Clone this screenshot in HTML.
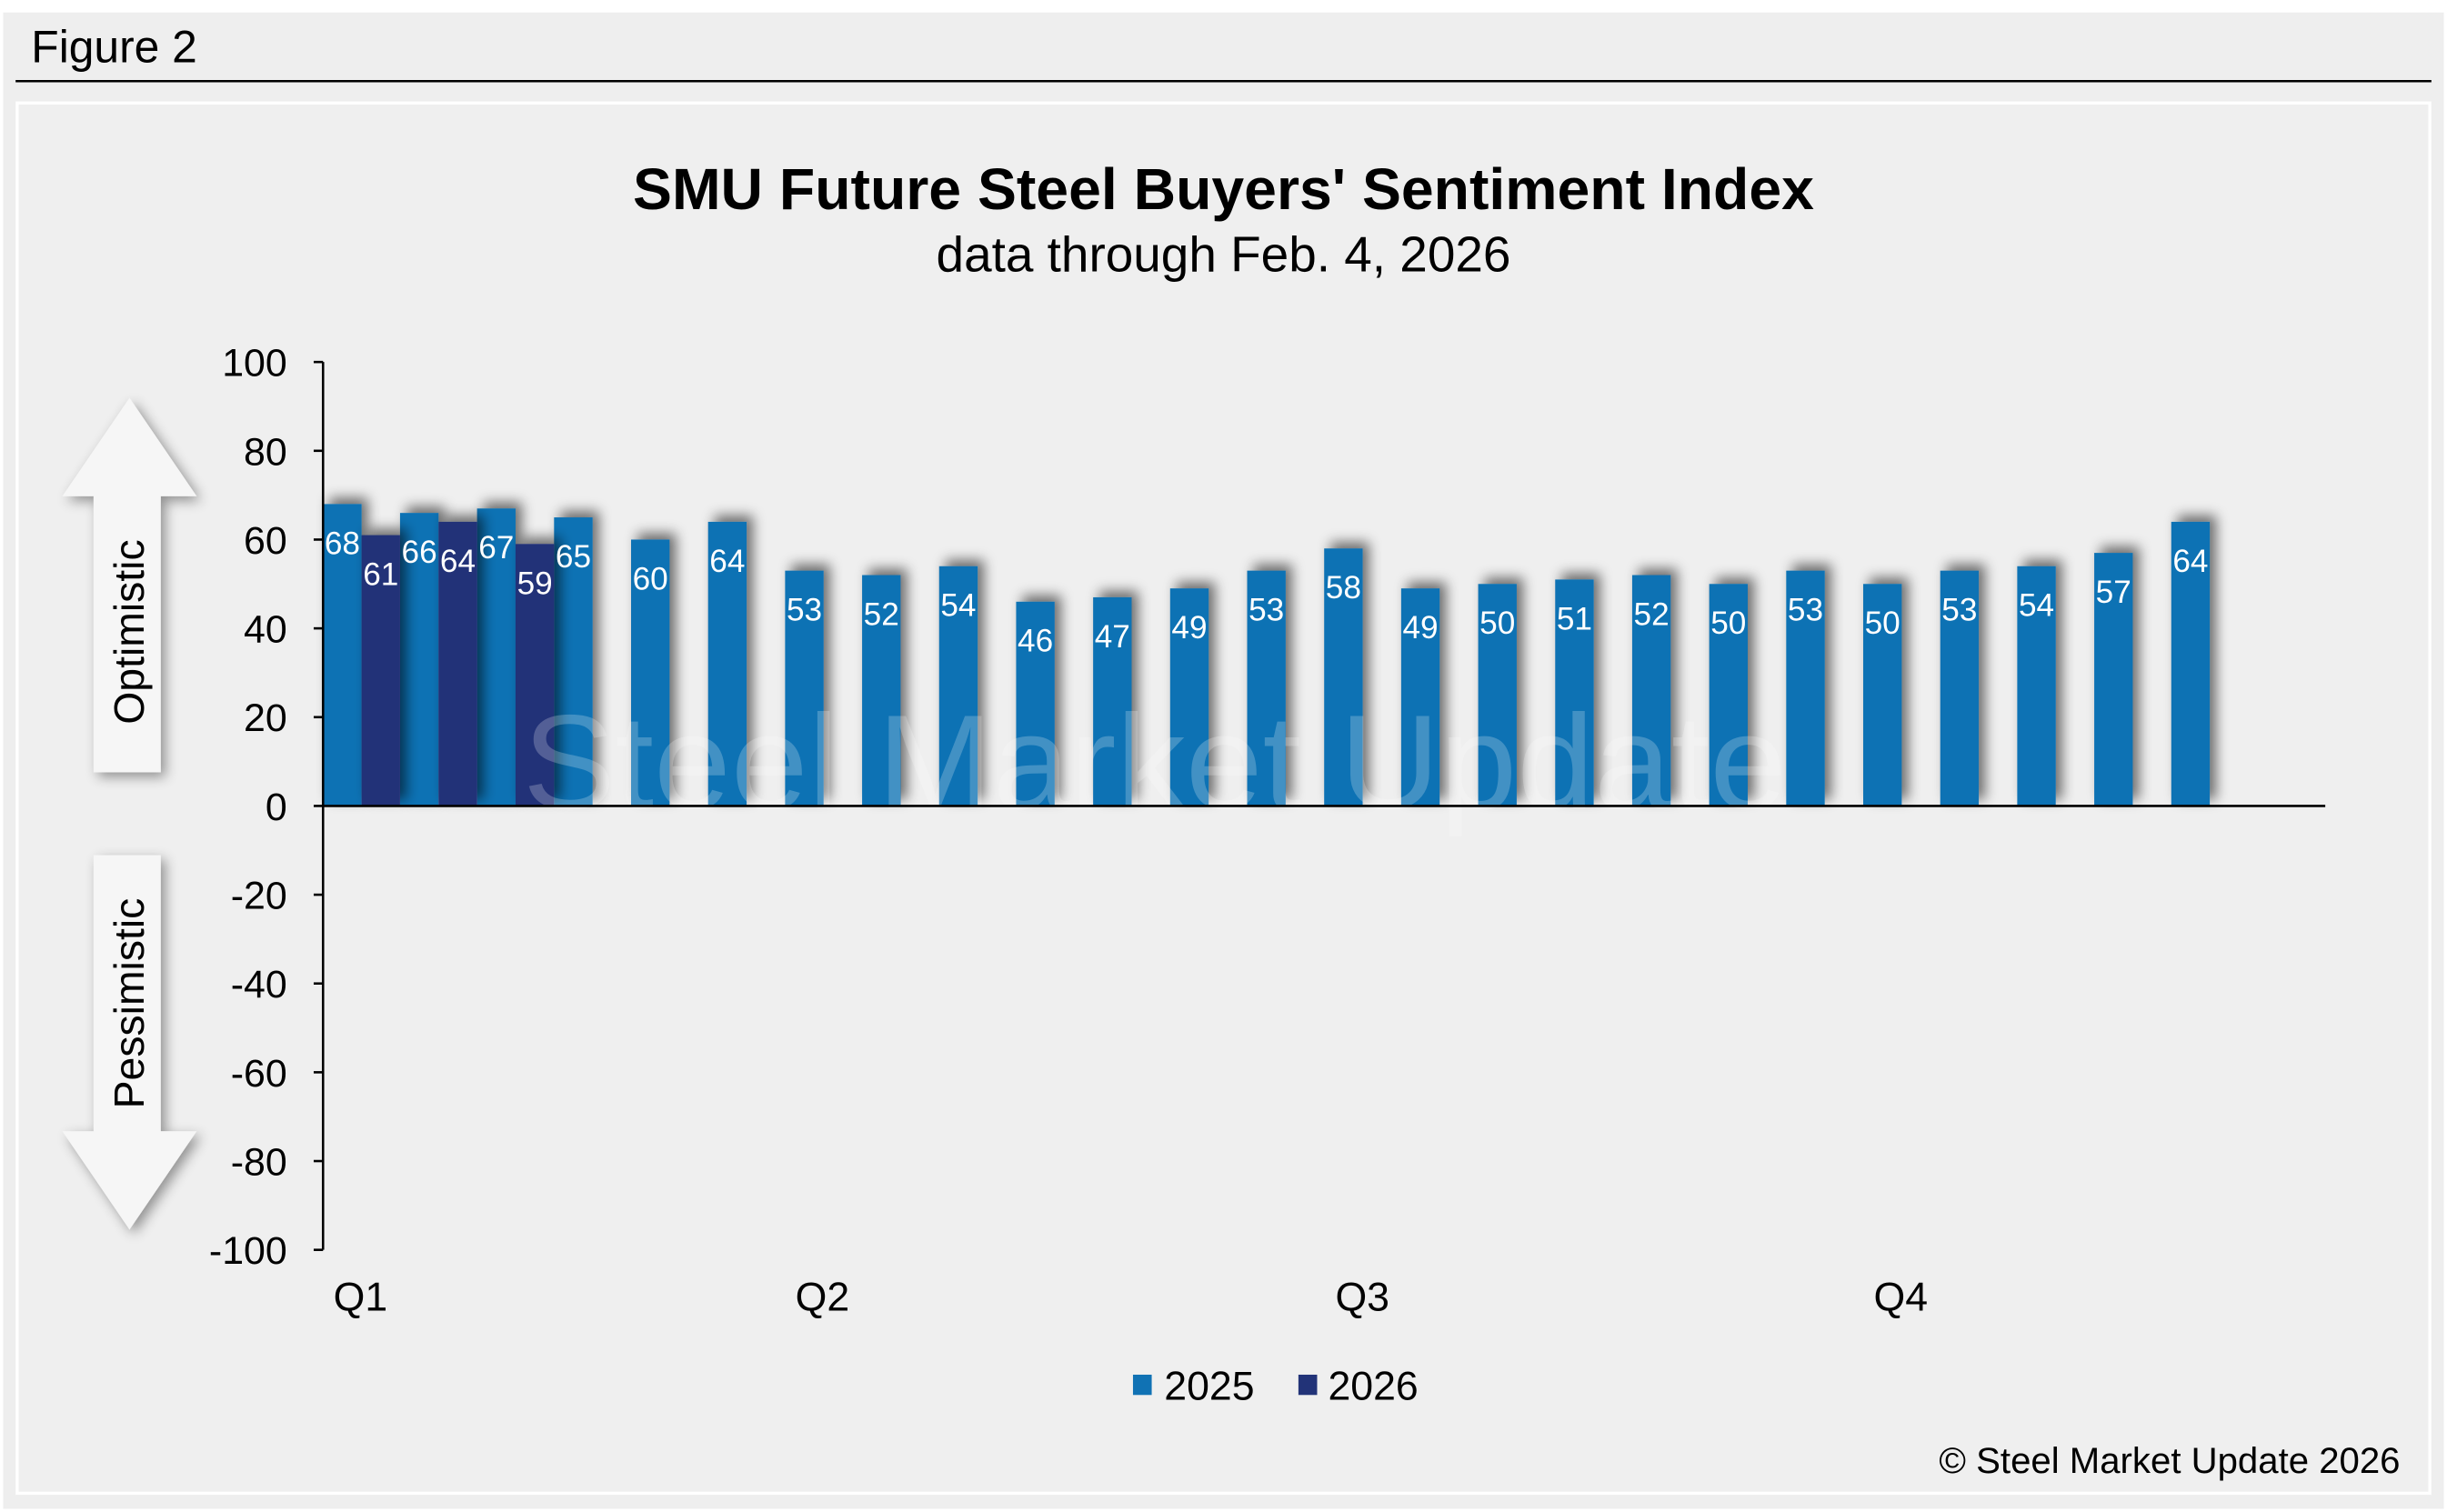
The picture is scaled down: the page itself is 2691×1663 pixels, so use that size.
<!DOCTYPE html>
<html><head><meta charset="utf-8">
<style>
html,body{margin:0;padding:0;background:#efefef;}
svg{display:block;font-family:"Liberation Sans",Arial,sans-serif;}
</style></head>
<body>
<svg id="chart" width="2691" height="1663" viewBox="0 0 1568 969" preserveAspectRatio="none" xmlns="http://www.w3.org/2000/svg">
<defs>
<filter id="sh" x="-50%" y="-50%" width="200%" height="200%">
<feGaussianBlur in="SourceAlpha" stdDeviation="4"/>
<feOffset dx="4" dy="-4" result="b"/>
<feComponentTransfer><feFuncA type="linear" slope="0.55"/></feComponentTransfer>
<feMerge><feMergeNode/><feMergeNode in="SourceGraphic"/></feMerge>
</filter>
<filter id="ash" x="-50%" y="-50%" width="200%" height="200%">
<feGaussianBlur in="SourceAlpha" stdDeviation="4"/>
<feOffset dx="3" dy="3"/>
<feComponentTransfer><feFuncA type="linear" slope="0.4"/></feComponentTransfer>
<feMerge><feMergeNode/><feMergeNode in="SourceGraphic"/></feMerge>
</filter>
</defs>
<rect x="0" y="0" width="1568" height="969" fill="#ffffff"/>
<rect x="2" y="8" width="1564" height="959" fill="#eeeeee"/>
<text x="20" y="40" font-size="29" fill="#000">Figure 2</text>
<line x1="10" y1="52" x2="1558" y2="52" stroke="#000" stroke-width="1.5"/>
<rect x="11" y="66" width="1546" height="891" fill="#efefef" stroke="#fff" stroke-width="2"/>
<text x="784" y="134" font-size="37.5" font-weight="bold" text-anchor="middle">SMU Future Steel Buyers' Sentiment Index</text>
<text x="784" y="174" font-size="32" text-anchor="middle">data through Feb. 4, 2026</text>

<g id="bars"></g>
<text x="335" y="518" font-size="86" textLength="810" lengthAdjust="spacingAndGlyphs" fill="#ffffff" opacity="0.22">Steel Market Update</text>

<g filter="url(#ash)">
<polygon points="83,255 126,318 103,318 103,495 60,495 60,318 40,318" fill="#f6f6f6"/>
</g>
<text transform="translate(92,405) rotate(-90)" font-size="27" text-anchor="middle">Optimistic</text>
<g filter="url(#ash)">
<polygon points="60,548 103,548 103,725 126,725 83,788 40,725 60,725" fill="#f6f6f6"/>
</g>
<text transform="translate(92,643) rotate(-90)" font-size="27" text-anchor="middle">Pessimistic</text>

<g id="labels"></g>
<g id="axes"></g>

<g>
<rect x="726" y="881" width="12" height="13" fill="#1072b4"/>
<text x="746" y="897" font-size="26">2025</text>
<rect x="832" y="881" width="12" height="13" fill="#223378"/>
<text x="851" y="897" font-size="26">2026</text>
</g>
<text x="1538" y="944" font-size="23.4" text-anchor="end">© Steel Market Update 2026</text>
</svg>
<script>
const values2025 = [68,66,67,65,60,64,53,52,54,46,47,49,53,58,49,50,51,52,50,53,50,53,54,57,64];
const values2026 = [61,64,59];
const yTicks = [100,80,60,40,20,0,-20,-40,-60,-80,-100];
const quarterLabels = ['Q1','Q2','Q3','Q4'];
const quarterX = [231,527,873,1218];
const NS='http://www.w3.org/2000/svg';
const x0=207, x1=1490, nSlots=26, slot=(x1-x0)/nSlots, bw=slot/2;
function y(v){return 516.5 - v*(801-232)/200;}
function xs(i,s){return x0 + i*slot + s*bw;}
function mk(tag,attrs,parent){const e=document.createElementNS(NS,tag);for(const k in attrs)e.setAttribute(k,attrs[k]);parent.appendChild(e);return e;}
const bars=document.getElementById('bars');
const labels=document.getElementById('labels');
const axes=document.getElementById('axes');
function drawSeries(vals,s,color,name){
  vals.forEach((v,i)=>{
    const r=mk('rect',{x:xs(i,s),y:Math.min(y(v),y(0)),width:bw,height:Math.abs(y(0)-y(v)),fill:color,filter:'url(#sh)'},bars);
    
    
  });
}
drawSeries(values2025,0,'#1072b4','bar-2025');
drawSeries(values2026,1,'#223378','bar-2026');
function drawLabels(vals,s,name){
  vals.forEach((v,i)=>{
    const t=mk('text',{x:xs(i,s)+bw/2,y:y(v)+32,'font-size':20.5,fill:'#fff','text-anchor':'middle'},labels);
    t.textContent=v;
    
    
  });
}
drawLabels(values2025,0,'2025');
drawLabels(values2026,1,'2026');
const ya=mk('line',{x1:x0,y1:y(100),x2:x0,y2:y(-100),stroke:'#000','stroke-width':1.5},axes);


const xa=mk('line',{x1:x0,y1:y(0),x2:x1,y2:y(0),stroke:'#000','stroke-width':1.5},axes);


yTicks.forEach(v=>{
  mk('line',{x1:x0-6,y1:y(v),x2:x0,y2:y(v),stroke:'#000','stroke-width':1.5},axes);
  const t=mk('text',{x:184,y:y(v)+9,'font-size':25,'text-anchor':'end'},axes);
  t.textContent=v;
  
  
});
quarterLabels.forEach((q,i)=>{
  const t=mk('text',{x:quarterX[i],y:840,'font-size':26,'text-anchor':'middle'},axes);
  t.textContent=q;
  
  
});
</script>
</body></html>
